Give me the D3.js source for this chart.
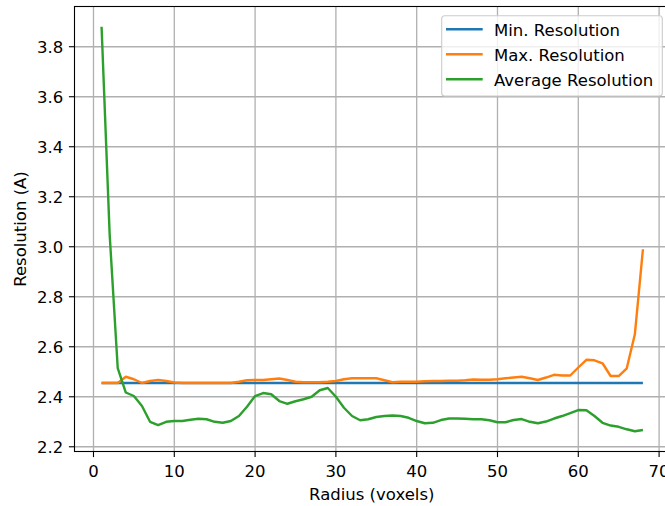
<!DOCTYPE html>
<html>
<head>
<meta charset="utf-8">
<script src="https://cdn.jsdelivr.net/npm/d3@7"></script>
<style>
  html, body { margin: 0; padding: 0; background: #fff; }
  svg { display: block; }
  text { font-family: "DejaVu Sans", sans-serif; fill: #000; }
</style>
</head>
<body>
<svg id="chart" width="665" height="506"></svg>
<script>
const radius = [1,2,3,4,5,6,7,8,9,10,11,12,13,14,15,16,17,18,19,20,21,22,23,24,25,26,27,28,29,30,31,32,33,34,35,36,37,38,39,40,41,42,43,44,45,46,47,48,49,50,51,52,53,54,55,56,57,58,59,60,61,62,63,64,65,66,67,68];

const minRes = [2.455,2.455,2.455,2.455,2.455,2.455,2.455,2.455,2.455,2.455,2.455,2.455,2.455,2.455,2.455,2.455,2.455,2.455,2.455,2.455,2.455,2.455,2.455,2.455,2.455,2.455,2.455,2.455,2.455,2.455,2.455,2.455,2.455,2.455,2.455,2.455,2.455,2.455,2.455,2.455,2.455,2.455,2.455,2.455,2.455,2.455,2.455,2.455,2.455,2.455,2.455,2.455,2.455,2.455,2.455,2.455,2.455,2.455,2.455,2.455,2.455,2.455,2.455,2.455,2.455,2.455,2.455,2.455];

const maxRes = [2.455,2.455,2.455,2.48,2.47,2.455,2.463,2.467,2.463,2.457,2.455,2.455,2.455,2.455,2.455,2.455,2.455,2.46,2.466,2.467,2.467,2.47,2.473,2.467,2.46,2.458,2.458,2.458,2.46,2.463,2.47,2.474,2.474,2.474,2.474,2.466,2.458,2.46,2.46,2.46,2.462,2.463,2.463,2.464,2.464,2.466,2.469,2.468,2.468,2.47,2.474,2.477,2.48,2.474,2.467,2.477,2.488,2.485,2.485,2.517,2.548,2.546,2.534,2.483,2.483,2.514,2.65,2.99];

const avgRes = [3.88,3.05,2.515,2.417,2.403,2.363,2.30,2.287,2.30,2.303,2.303,2.308,2.312,2.31,2.30,2.296,2.303,2.323,2.36,2.403,2.415,2.41,2.383,2.372,2.382,2.39,2.40,2.426,2.435,2.40,2.356,2.323,2.306,2.31,2.319,2.323,2.325,2.323,2.316,2.303,2.294,2.296,2.307,2.313,2.313,2.312,2.31,2.31,2.306,2.298,2.298,2.307,2.311,2.30,2.294,2.301,2.313,2.323,2.335,2.347,2.346,2.323,2.296,2.285,2.28,2.27,2.262,2.267];

const seriesNames = ["Min. Resolution", "Max. Resolution", "Average Resolution"];
const seriesColors = ["#1f77b4", "#ff7f0e", "#2ca02c"];
const xTicks = [0, 10, 20, 30, 40, 50, 60, 70];
const yTicks = [2.2, 2.4, 2.6, 2.8, 3.0, 3.2, 3.4, 3.6, 3.8];
const xLabel = "Radius (voxels)";
const yLabel = "Resolution (A)";

const series = [minRes, maxRes, avgRes];

const box = { left: 74.5, right: 670, top: 6.5, bottom: 451.5 };
const fs = 16.5;
const tickLen = 5.6;

const svg = d3.select("#chart");

// matplotlib-style 5% margins
const xMin = d3.min(radius), xMax = d3.max(radius);
const xPad = (xMax - xMin) * 0.05;
const allY = series.flat();
const yMin = d3.min(allY), yMax = d3.max(allY);
const yPad = (yMax - yMin) * 0.05;

const x = d3.scaleLinear().domain([xMin - xPad, xMax + xPad]).range([box.left, box.right]);
const y = d3.scaleLinear().domain([yMin - yPad, yMax + yPad]).range([box.bottom, box.top]);

// grid
const grid = svg.append("g");
grid.selectAll("line.gx").data(xTicks).join("line")
  .attr("x1", d => x(d)).attr("x2", d => x(d))
  .attr("y1", box.top).attr("y2", box.bottom)
  .attr("stroke", "#b0b0b0").attr("stroke-width", 1.3);
grid.selectAll("line.gy").data(yTicks).join("line")
  .attr("y1", d => y(d)).attr("y2", d => y(d))
  .attr("x1", box.left).attr("x2", box.right)
  .attr("stroke", "#b0b0b0").attr("stroke-width", 1.3);

// lines
const line = d3.line().x((d, i) => x(radius[i])).y(d => y(d));
svg.append("g").selectAll("path").data(series).join("path")
  .attr("d", d => line(d))
  .attr("fill", "none")
  .attr("stroke", (d, i) => seriesColors[i])
  .attr("stroke-width", 2.4)
  .attr("stroke-linejoin", "round")
  .attr("stroke-linecap", "butt");

// spines
svg.append("rect")
  .attr("x", box.left).attr("y", box.top)
  .attr("width", box.right - box.left).attr("height", box.bottom - box.top)
  .attr("fill", "none").attr("stroke", "#000").attr("stroke-width", 1.1);

// x axis ticks
const xa = svg.append("g");
xa.selectAll("line").data(xTicks).join("line")
  .attr("x1", d => x(d)).attr("x2", d => x(d))
  .attr("y1", box.bottom).attr("y2", box.bottom + tickLen)
  .attr("stroke", "#000").attr("stroke-width", 1.1);
xa.selectAll("text").data(xTicks).join("text")
  .attr("x", d => x(d)).attr("y", 477)
  .attr("text-anchor", "middle").attr("font-size", fs)
  .text(d => d3.format("d")(d));

// y axis ticks
const ya = svg.append("g");
ya.selectAll("line").data(yTicks).join("line")
  .attr("y1", d => y(d)).attr("y2", d => y(d))
  .attr("x1", box.left - tickLen).attr("x2", box.left)
  .attr("stroke", "#000").attr("stroke-width", 1.1);
ya.selectAll("text").data(yTicks).join("text")
  .attr("x", box.left - 2 * tickLen).attr("y", d => y(d) + 6)
  .attr("text-anchor", "end").attr("font-size", fs)
  .text(d => d3.format(".1f")(d));

// axis labels
svg.append("text")
  .attr("x", (box.left + box.right) / 2 - 0.5).attr("y", 499.5)
  .attr("text-anchor", "middle").attr("font-size", fs)
  .text(xLabel);
svg.append("text")
  .attr("transform", `translate(26.2, ${(box.top + box.bottom) / 2}) rotate(-90)`)
  .attr("text-anchor", "middle").attr("font-size", fs)
  .text(yLabel);

// legend
const lg = svg.append("g");
lg.append("rect")
  .attr("x", 441.7).attr("y", 15.7).attr("width", 220.6).attr("height", 80.3)
  .attr("rx", 3).attr("ry", 3)
  .attr("fill", "#fff").attr("fill-opacity", 0.8)
  .attr("stroke", "#cccccc").attr("stroke-width", 1.1);
const rowY = i => 29.3 + i * 25;
lg.selectAll("line").data(seriesNames).join("line")
  .attr("x1", 446).attr("x2", 482.7)
  .attr("y1", (d, i) => rowY(i)).attr("y2", (d, i) => rowY(i))
  .attr("stroke", (d, i) => seriesColors[i]).attr("stroke-width", 2.4);
lg.selectAll("text").data(seriesNames).join("text")
  .attr("x", 494).attr("y", (d, i) => rowY(i) + 7)
  .attr("font-size", fs)
  .text(d => d);
</script>
</body>
</html>
